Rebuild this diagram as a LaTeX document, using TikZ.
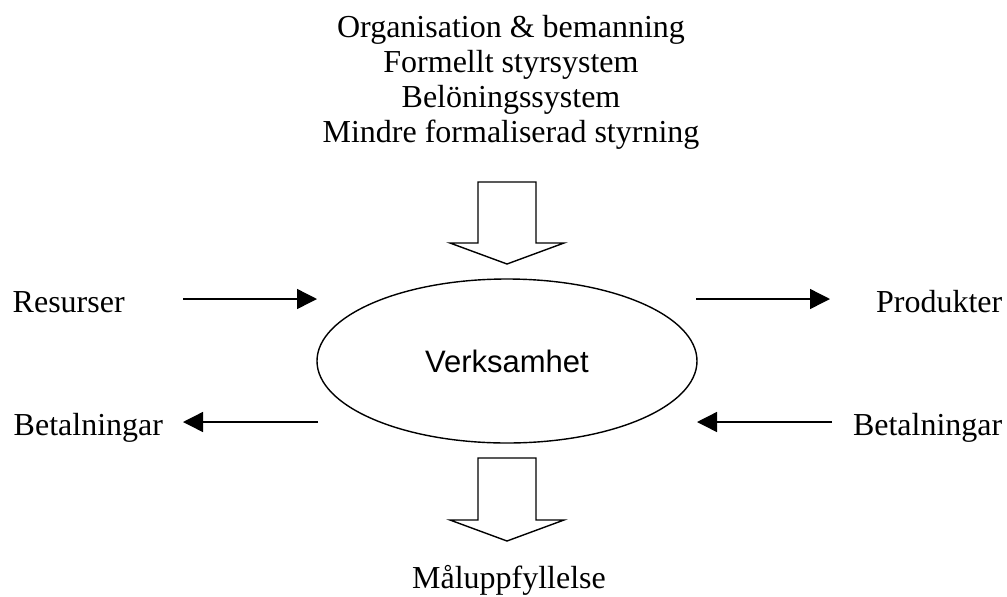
\documentclass[tikz,border=0pt]{standalone}
\usepackage{fontspec}
\setmainfont{Liberation Serif}
\newfontfamily\sansf{Liberation Sans}
\usetikzlibrary{positioning,arrows.meta,shapes.geometric}

\begin{document}
\begin{tikzpicture}[x=0.5pt, y=-0.5pt, >={Triangle[length=10pt,width=10pt]},
    line width=0.7pt,
    lbl/.style={inner sep=0pt, font=\fontsize{16}{17.5}\selectfont}]
  \useasboundingbox (0,0) rectangle (1007,596);

  % centre
  \node (verk) [draw, ellipse, minimum width=190pt, minimum height=82pt,
                inner sep=0pt, font=\sansf\fontsize{15.5}{18}\selectfont]
    at (507,361) {Verksamhet};

  % top text and block arrows
  \node (styr) [lbl, anchor=north, align=center] at (511,15)
    {Organisation \& bemanning\\Formellt styrsystem\\Bel\"oningssystem\\Mindre formaliserad styrning};
  \draw[shift={(507,182)}] (-29,0) -- (29,0) -- (29,61) -- (57,61) -- (0,82)
    -- (-57,61) -- (-29,61) -- cycle;
  \draw[shift={(507,458)}] (-29,0) -- (29,0) -- (29,62) -- (57,62) -- (0,83)
    -- (-57,62) -- (-29,62) -- cycle;
  \node (mal) [lbl, anchor=base] at (509,588) {M\aa luppfyllelse};

  % side labels
  \node (res)  [lbl, anchor=base west] at (12,312)   {Resurser};
  \node (prod) [lbl, anchor=base east] at (1003,312) {Produkter};
  \node (betl) [lbl, anchor=base west] at (13,435)   {Betalningar};
  \node (betr) [lbl, anchor=base east] at (1003,435) {Betalningar};

  \coordinate (res1) at (183,299);  \coordinate (res2) at (317,299);
  \coordinate (prod1) at (696,299); \coordinate (prod2) at (830,299);
  \coordinate (betl1) at (318,422); \coordinate (betl2) at (183,422);
  \coordinate (betr1) at (832,422); \coordinate (betr2) at (697,422);
  \draw[->] (res1) -- (res2);
  \draw[->] (prod1) -- (prod2);
  \draw[->] (betl1) -- (betl2);
  \draw[->] (betr1) -- (betr2);
\end{tikzpicture}
\end{document}
